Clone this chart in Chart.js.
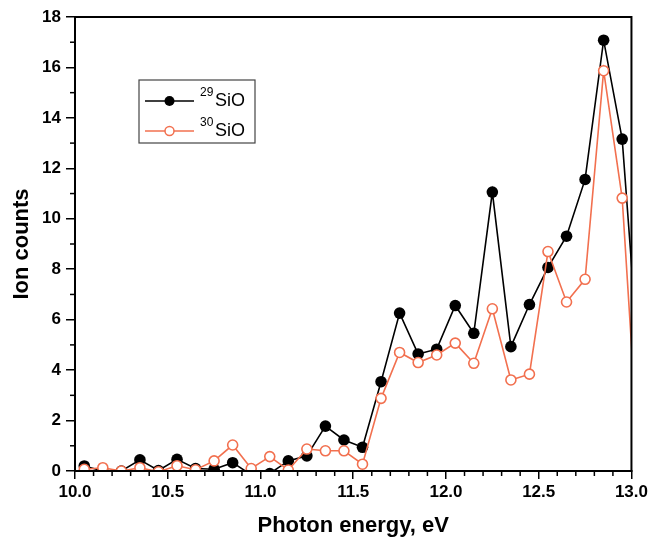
<!DOCTYPE html>
<html lang="en">
<head>
  <meta charset="UTF-8" />
  <title>SiO ion counts vs photon energy</title>
  <script src="https://cdn.jsdelivr.net/npm/chart.js"></script>
  <style>
    body {
      margin: 0;
      background: #fff;
    }
    #wrap {
      width: 651px;
      height: 539px;
    }
  </style>
</head>
<body>
  <div id="wrap"><canvas id="ionChart"></canvas></div>

<script>
  // photon energy (eV) - last point sits just past the axis end and gets clipped
  const energy = [10.05, 10.15, 10.25, 10.35, 10.45, 10.55, 10.65, 10.75, 10.85, 10.95,
                  11.05, 11.15, 11.25, 11.35, 11.45, 11.55, 11.65, 11.75, 11.85, 11.95,
                  12.05, 12.15, 12.25, 12.35, 12.45, 12.55, 12.65, 12.75, 12.85, 12.95, 13.05];
  const si29 = [0.2, 0.0, 0.0, 0.44, 0.02, 0.46, 0.1, 0.07, 0.33, -0.15,
                -0.1, 0.4, 0.6, 1.78, 1.23, 0.94, 3.54, 6.26, 4.64, 4.83,
                6.56, 5.46, 11.06, 4.93, 6.6, 8.07, 9.31, 11.56, 17.08, 13.16, 3.3];
  const si30 = [0.07, 0.13, 0.0, 0.13, -0.03, 0.21, 0.05, 0.4, 1.03, 0.1,
                0.57, 0.04, 0.87, 0.8, 0.8, 0.27, 2.88, 4.7, 4.3, 4.6,
                5.07, 4.27, 6.43, 3.61, 3.84, 8.7, 6.7, 7.6, 15.87, 10.82, -0.8];
  const legendLabels = [["29", "SiO"], ["30", "SiO"]];

  const black = "#000";
  const orange = "#f2704f";
  const axisFont = { family: "'Liberation Sans', Arial, sans-serif", weight: "bold", size: 17 };
  const titleFont = { family: "'Liberation Sans', Arial, sans-serif", weight: "bold", size: 22 };

  const toPoints = arr => arr.map((v, i) => ({ x: energy[i], y: v }));

  // minor ticks + closing frame
  const frame = {
    id: "frame",
    afterDraw(chart) {
      const { ctx, chartArea: a, scales } = chart;
      ctx.save();
      ctx.strokeStyle = "#000";
      ctx.lineWidth = 1.5;
      for (let i = 0; i <= 30; i++) {
        if (i % 5 === 0) continue;
        const px = scales.x.getPixelForValue(10 + i / 10);
        ctx.beginPath();
        ctx.moveTo(px, a.bottom);
        ctx.lineTo(px, a.bottom + 5);
        ctx.stroke();
      }
      for (let v = 1; v < 18; v += 2) {
        const py = scales.y.getPixelForValue(v);
        ctx.beginPath();
        ctx.moveTo(a.left - 5, py);
        ctx.lineTo(a.left, py);
        ctx.stroke();
      }
      ctx.lineWidth = 2;
      ctx.strokeRect(a.left, a.top, a.right - a.left, a.bottom - a.top);
      ctx.restore();
    }
  };

  // legend box with superscript mass numbers
  const isoLegend = {
    id: "isoLegend",
    afterDraw(chart) {
      const ctx = chart.ctx;
      const bx = 139, by = 80, bw = 116, bh = 63;
      const rows = [101, 131];
      const cols = [black, orange];
      ctx.save();
      ctx.strokeStyle = "#444";
      ctx.lineWidth = 1.2;
      ctx.strokeRect(bx, by, bw, bh);
      rows.forEach((y, k) => {
        ctx.strokeStyle = cols[k];
        ctx.lineWidth = 1.5;
        ctx.beginPath();
        ctx.moveTo(145, y);
        ctx.lineTo(194, y);
        ctx.stroke();
        ctx.beginPath();
        ctx.arc(169.5, y, k === 0 ? 5 : 4.5, 0, Math.PI * 2);
        ctx.fillStyle = k === 0 ? black : "#fff";
        ctx.fill();
        if (k === 1) ctx.stroke();
        ctx.fillStyle = "#000";
        ctx.textBaseline = "alphabetic";
        ctx.font = "12px 'Liberation Sans', Arial, sans-serif";
        ctx.fillText(legendLabels[k][0], 200, y - 5);
        ctx.font = "18px 'Liberation Sans', Arial, sans-serif";
        ctx.fillText(legendLabels[k][1], 215, y + 5);
      });
      ctx.restore();
    }
  };

  new Chart(document.getElementById("ionChart"), {
    type: "line",
    data: {
      datasets: [
        {
          label: "29SiO",
          data: toPoints(si29),
          borderColor: black,
          backgroundColor: black,
          borderWidth: 1.6,
          pointRadius: 5.8,
          pointBorderWidth: 0,
          pointBackgroundColor: black,
          tension: 0,
          order: 1,
          clip: { left: 8, top: 8, right: 0, bottom: 0 }
        },
        {
          label: "30SiO",
          data: toPoints(si30),
          borderColor: orange,
          backgroundColor: "#fff",
          borderWidth: 1.6,
          pointRadius: 5,
          pointBorderWidth: 1.6,
          pointBackgroundColor: "#fff",
          pointBorderColor: orange,
          tension: 0,
          order: 0,
          clip: { left: 8, top: 8, right: 0, bottom: 0 }
        }
      ]
    },
    options: {
      responsive: true,
      maintainAspectRatio: false,
      animation: false,
      layout: { padding: { top: 17, right: 13, left: 0, bottom: 0 } },
      plugins: {
        legend: { display: false },
        tooltip: { enabled: false }
      },
      scales: {
        x: {
          type: "linear",
          min: 10,
          max: 13,
          afterFit(scale) { scale.height = 68; },
          grid: { drawOnChartArea: false, color: "#000", tickLength: 8, lineWidth: 1.5 },
          border: { display: true, color: "#000", width: 2 },
          ticks: {
            stepSize: 0.5,
            color: "#000",
            font: axisFont,
            padding: 3,
            maxRotation: 0,
            callback: v => v.toFixed(1)
          },
          title: {
            display: true,
            text: "Photon energy, eV",
            color: "#000",
            font: titleFont,
            padding: { top: 0, bottom: 0 }
          }
        },
        y: {
          min: 0,
          max: 18,
          afterFit(scale) { scale.width = 75; },
          grid: { drawOnChartArea: false, color: "#000", tickLength: 9, lineWidth: 1.5 },
          border: { display: true, color: "#000", width: 2 },
          ticks: {
            stepSize: 2,
            color: "#000",
            font: axisFont,
            padding: 5
          },
          title: {
            display: true,
            text: "Ion counts",
            color: "#000",
            font: titleFont,
            padding: { top: 9, bottom: 0 }
          }
        }
      }
    },
    plugins: [frame, isoLegend]
  });
</script>
</body>
</html>
